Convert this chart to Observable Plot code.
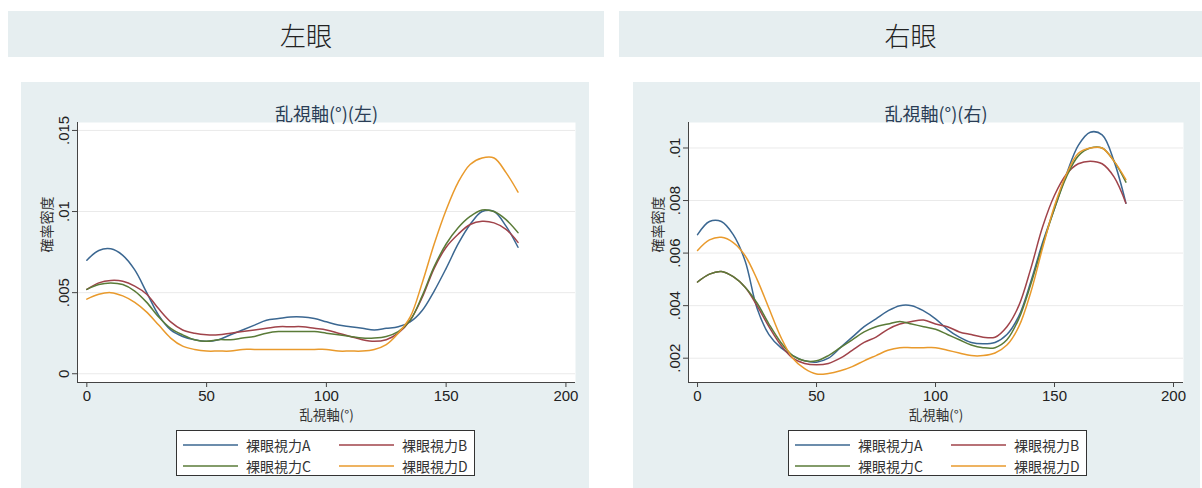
<!DOCTYPE html>
<html><head><meta charset="utf-8">
<script src="https://cdn.jsdelivr.net/npm/d3@7"></script>
<script src="https://cdn.jsdelivr.net/npm/@observablehq/plot@0.6"></script>
<style>
body{margin:0;background:#fff;width:1202px;height:488px;position:relative;overflow:hidden;font-family:"Noto Sans CJK JP","Noto Sans",sans-serif;}
.band{position:absolute;top:11px;height:46px;background:#e6eef0;display:flex;align-items:center;justify-content:center;font-size:26px;font-weight:300;color:#222;}
.panel{position:absolute;top:82px;height:406px;background:#e7eff1;}
.plotwrap{position:absolute;top:82px;}
.legend{position:absolute;top:430px;width:297px;height:44px;border:1px solid #333;background:#fff;font-family:"Noto Sans CJK JP",sans-serif;font-size:14px;color:#333;}
.legend .it{position:absolute;display:flex;align-items:center;height:18px;}
.legend svg{margin-right:8px;}
</style></head>
<body>
<div class="band" id="hl" style="left:8px;width:596px;">左眼</div>
<div class="band" id="hr" style="left:619px;width:583px;">右眼</div>
<div class="panel" style="left:21px;width:568px;"></div>
<div class="panel" style="left:633px;width:567px;"></div>
<div class="plotwrap" id="pl" style="left:21px;"></div>
<div class="plotwrap" id="pr" style="left:633px;"></div>
<div class="legend" id="ll" style="left:176px;"></div>
<div class="legend" id="lr" style="left:788px;"></div>
<script>
const angles = [0,5,10,15,20,25,30,35,40,45,50,55,60,65,70,75,80,85,90,95,100,105,110,115,120,125,130,135,140,145,150,155,160,165,170,175,180];
const seriesNames = ["裸眼視力A","裸眼視力B","裸眼視力C","裸眼視力D"];
const seriesColors = ["#3b6791","#a0434a","#5a7b38","#e99a2c"];

const leftA = [0.0070,0.0076,0.0077,0.0073,0.0064,0.0050,0.0036,0.0027,0.0023,0.0021,0.0020,0.0021,0.0024,0.0027,0.0030,0.0033,0.0034,0.0035,0.0035,0.0034,0.0032,0.0030,0.0029,0.0028,0.0027,0.0028,0.0029,0.0032,0.0039,0.0051,0.0065,0.0080,0.0092,0.0100,0.0100,0.0091,0.0078];
const leftB = [0.0052,0.0056,0.00575,0.0057,0.0054,0.0049,0.0040,0.0032,0.0027,0.0025,0.0024,0.0024,0.0025,0.0026,0.0027,0.0028,0.0029,0.0029,0.0029,0.0028,0.0027,0.0025,0.0023,0.0021,0.0020,0.0021,0.0025,0.0033,0.0047,0.0065,0.0078,0.0086,0.0092,0.0094,0.0093,0.0089,0.0081];
const leftC = [0.0052,0.0055,0.0056,0.0055,0.0051,0.0044,0.0035,0.0028,0.0024,0.0021,0.0020,0.0021,0.0021,0.0022,0.0023,0.0025,0.0026,0.0026,0.0026,0.0026,0.0025,0.0024,0.0023,0.0022,0.0022,0.0023,0.0026,0.0033,0.0048,0.0066,0.0080,0.0090,0.0097,0.0101,0.0100,0.0095,0.0087];
const leftD = [0.0046,0.0049,0.0050,0.0048,0.0044,0.0038,0.0030,0.0022,0.0017,0.0015,0.0014,0.0014,0.0014,0.0015,0.0015,0.0015,0.0015,0.0015,0.0015,0.0015,0.0015,0.0014,0.0014,0.0014,0.0015,0.0018,0.0025,0.0035,0.0056,0.0080,0.0101,0.0118,0.0129,0.0133,0.0133,0.0124,0.0112];

const rightA = [0.0067,0.0072,0.0072,0.0067,0.0057,0.0039,0.0029,0.0024,0.0021,0.0019,0.00185,0.0020,0.0024,0.0028,0.0032,0.0035,0.0038,0.0040,0.0040,0.0038,0.0035,0.0031,0.0028,0.0026,0.00255,0.0026,0.0029,0.0036,0.0049,0.0064,0.0077,0.0090,0.0101,0.0106,0.0105,0.0095,0.0079];
const rightB = [0.0049,0.0052,0.0053,0.0051,0.0047,0.0040,0.0032,0.0025,0.0020,0.0018,0.00175,0.0018,0.0020,0.0023,0.0026,0.0028,0.0031,0.0033,0.0034,0.00345,0.0033,0.0032,0.0030,0.0029,0.0028,0.0028,0.0032,0.0040,0.0054,0.0070,0.0082,0.0090,0.0094,0.0095,0.0094,0.0089,0.0079];
const rightC = [0.0049,0.0052,0.0053,0.0051,0.0047,0.0041,0.0033,0.0026,0.0021,0.0019,0.0019,0.0021,0.0024,0.0027,0.0030,0.0032,0.0033,0.0034,0.0033,0.0032,0.0031,0.0029,0.0027,0.0025,0.0024,0.0024,0.0027,0.0035,0.0048,0.0063,0.0077,0.0089,0.0097,0.0100,0.0100,0.0095,0.0087];
const rightD = [0.0061,0.0065,0.0066,0.0064,0.0059,0.0050,0.0039,0.0028,0.0020,0.0016,0.0014,0.00142,0.00152,0.00168,0.0019,0.0021,0.0023,0.0024,0.0024,0.0024,0.0024,0.0023,0.0022,0.0021,0.0021,0.0022,0.0025,0.0032,0.0045,0.0062,0.0078,0.0090,0.0098,0.0100,0.0100,0.0095,0.0088];

const xTicks = [0,50,100,150,200];
const leftYTicks = [0,0.005,0.01,0.015];
const rightYTicks = [0.002,0.004,0.006,0.008,0.01];
const leftTitle = "乱視軸(°)(左)";
const rightTitle = "乱視軸(°)(右)";
const xLabel = "乱視軸(°)";
const yLabel = "確率密度";

function rows(arrs){
  const out=[];
  arrs.forEach((a,i)=>a.forEach((v,j)=>out.push({angle:angles[j],density:v,series:seriesNames[i]})));
  return out;
}
const fmt = d => d===0 ? "0" : String(d).replace(/^0\./,".");

function panel(data, o){
  return Plot.plot({
    width:o.width, height:345,
    marginLeft:o.ml, marginRight:o.mr, marginTop:40, marginBottom:45,
    style:{background:"transparent", fontFamily:"'Liberation Sans', Arial, sans-serif", fontSize:"15px", color:"#333", overflow:"visible"},
    x:{domain:o.xDom},
    y:{domain:o.yDom},
    color:{domain:seriesNames, range:seriesColors},
    marks:[
      Plot.frame({fill:"white", stroke:null}),
      Plot.gridY(o.yTicks,{stroke:"#eaeaea", strokeOpacity:1}),
      Plot.line(data,{x:"angle", y:"density", z:"series", stroke:"series", curve:"catmull-rom", strokeWidth:1.5}),
      Plot.ruleX([o.xDom[0]],{stroke:"#444"}),
      Plot.ruleY([o.yDom[0]],{stroke:"#444"}),
      Plot.axisX(xTicks,{tickSize:5, tickPadding:3, fontSize:15, label:null, stroke:"#444", fill:"#222"}),
      Plot.axisY(o.yTicks,{tickSize:5, tickPadding:4, fontSize:15, tickRotate:-90, tickFormat:fmt, label:null, stroke:"#444", fill:"#222"}),
      Plot.text([o.title],{frameAnchor:"top", dy:-14, fontSize:18, fill:"#2a3d55", fontFamily:"'Noto Sans CJK JP', sans-serif"}),
      Plot.text([xLabel],{frameAnchor:"bottom", dy:37, fontSize:13.5, fill:"#333", fontFamily:"'Noto Sans CJK JP', sans-serif"}),
      Plot.text([yLabel],{frameAnchor:"left", dx:-30, rotate:-90, fontSize:14, fill:"#333", fontFamily:"'Noto Sans CJK JP', sans-serif"})
    ]
  });
}

document.getElementById("pl").append(panel(rows([leftA,leftB,leftC,leftD]),{
  width:568, ml:56, mr:14, xDom:[-3.9,204], yDom:[-0.00054,0.01549], yTicks:leftYTicks, title:leftTitle}));
document.getElementById("pr").append(panel(rows([rightA,rightB,rightC,rightD]),{
  width:567, ml:55, mr:17, xDom:[-3.8,204.2], yDom:[0.001075,0.01097], yTicks:rightYTicks, title:rightTitle}));

function legend(el){
  const pos=[[6,5],[162,5],[6,26],[162,26]];
  seriesNames.forEach((n,i)=>{
    const d=document.createElement("div");
    d.className="it";
    d.style.left=pos[i][0]+"px"; d.style.top=pos[i][1]+"px";
    d.innerHTML=`<svg width="55" height="4"><line x1="0" x2="55" y1="2" y2="2" stroke="${seriesColors[i]}" stroke-width="1.5"/></svg><span>${n}</span>`;
    el.append(d);
  });
}
legend(document.getElementById("ll"));
legend(document.getElementById("lr"));
</script>
</body></html>
